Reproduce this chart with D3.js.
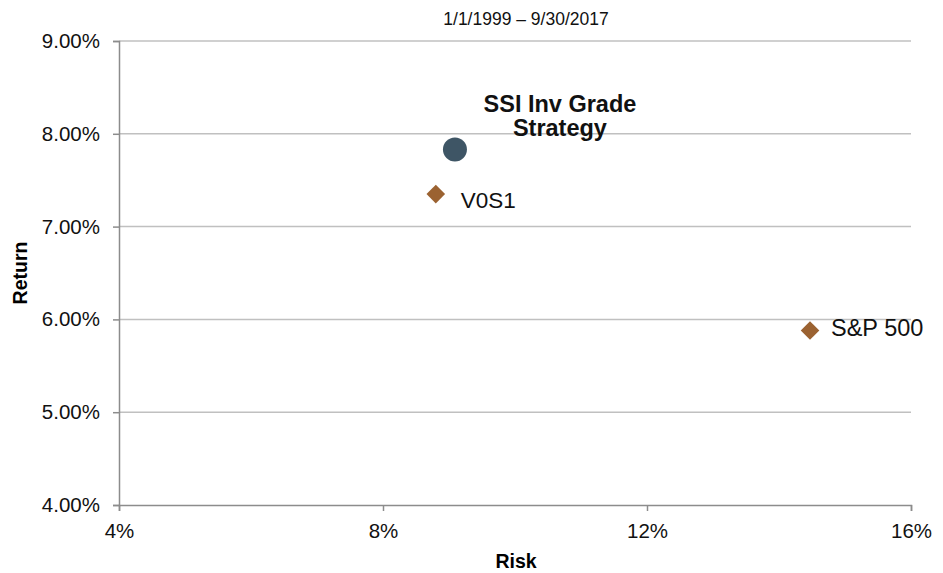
<!DOCTYPE html>
<html>
<head>
<meta charset="utf-8">
<script src="https://cdn.jsdelivr.net/npm/d3@7"></script>
<style>
  body { margin: 0; background: #fff; }
  svg { font-family: "Liberation Sans", Arial, sans-serif; }
</style>
</head>
<body>
<div id="chart"></div>
<script>
// data
const names = ["SSI Inv Grade Strategy", "V0S1", "S&P 500"];
const risk = [9.09, 8.80, 14.47];
const ret = [7.83, 7.35, 5.88];
const shapes = ["circle", "diamond", "diamond"];
const xTicks = [4, 8, 12, 16];
const yTicks = [4, 5, 6, 7, 8, 9];

const width = 943, height = 573;
const margin = { left: 119, right: 32, top: 41, bottom: 68 };

const svg = d3.select("#chart").append("svg")
    .attr("width", width)
    .attr("height", height);

const x = d3.scaleLinear().domain([4, 16]).range([margin.left, width - margin.right]);
const y = d3.scaleLinear().domain([4, 9]).range([height - margin.bottom, margin.top]);

// gridlines
svg.append("g")
  .selectAll("line")
  .data(yTicks.slice(1))
  .enter().append("line")
    .attr("x1", x(4)).attr("x2", x(16))
    .attr("y1", d => y(d)).attr("y2", d => y(d))
    .attr("stroke", "#c0c0c0").attr("stroke-width", 1.5);

// y axis
const yAxis = svg.append("g")
    .attr("transform", `translate(${x(4)},0)`)
    .call(d3.axisLeft(y).tickValues(yTicks).tickSize(6).tickPadding(13)
      .tickFormat(d => d.toFixed(2) + "%"));
yAxis.select(".domain").attr("stroke", "#8c8c8c").attr("stroke-width", 1.5);
yAxis.selectAll(".tick line").attr("stroke", "#8c8c8c").attr("stroke-width", 1.5);
yAxis.selectAll("text").attr("font-size", 20.5).attr("fill", "#111");

// x axis
const xAxis = svg.append("g")
    .attr("transform", `translate(0,${y(4)})`)
    .call(d3.axisBottom(x).tickValues(xTicks).tickSize(6).tickPadding(12)
      .tickFormat(d => d + "%"));
xAxis.select(".domain").attr("stroke", "#8c8c8c").attr("stroke-width", 1.5);
xAxis.selectAll(".tick line").attr("stroke", "#8c8c8c").attr("stroke-width", 1.5);
xAxis.selectAll("text").attr("font-size", 20.5).attr("fill", "#111");

// title
svg.append("text")
    .attr("x", 526).attr("y", 25)
    .attr("text-anchor", "middle")
    .attr("font-size", 17.5)
    .attr("fill", "#111")
    .text("1/1/1999 \u2013 9/30/2017");

// axis titles
svg.append("text")
    .attr("x", 516).attr("y", 568)
    .attr("text-anchor", "middle")
    .attr("font-size", 19.5).attr("font-weight", "bold")
    .text("Risk");

svg.append("text")
    .attr("transform", `translate(27,${y(6.5)}) rotate(-90)`)
    .attr("text-anchor", "middle")
    .attr("font-size", 19.5).attr("font-weight", "bold")
    .text("Return");

// points
const pts = names.map((n, i) => ({ name: n, risk: risk[i], ret: ret[i], shape: shapes[i] }));

svg.selectAll(".pt")
  .data(pts)
  .enter().append("path")
    .attr("class", "pt")
    .attr("transform", d => `translate(${x(d.risk)},${y(d.ret)})`)
    .attr("d", d => d.shape === "circle"
      ? d3.symbol(d3.symbolCircle, Math.PI * 12 * 12)()
      : d3.symbol(d3.symbolDiamond2, 220)())
    .attr("fill", d => d.shape === "circle" ? "#3e5565" : "#9b6231");

// labels
const lab = svg.append("g").attr("font-size", 23.5).attr("fill", "#111");
lab.append("text")
    .attr("x", x(risk[0]) + 105).attr("y", y(ret[0]) - 38)
    .attr("text-anchor", "middle").attr("font-weight", "bold")
  .selectAll("tspan")
  .data(["SSI Inv Grade", "Strategy"])
  .enter().append("tspan")
    .attr("x", x(risk[0]) + 105)
    .attr("dy", (d, i) => i === 0 ? 0 : 24)
    .text(d => d);

lab.append("text")
    .attr("x", x(risk[1]) + 25).attr("y", y(ret[1]) + 14)
    .attr("font-size", 22.5)
    .text(names[1]);

lab.append("text")
    .attr("x", x(risk[2]) + 21).attr("y", y(ret[2]) + 5)
    .text(names[2]);
</script>
</body>
</html>
